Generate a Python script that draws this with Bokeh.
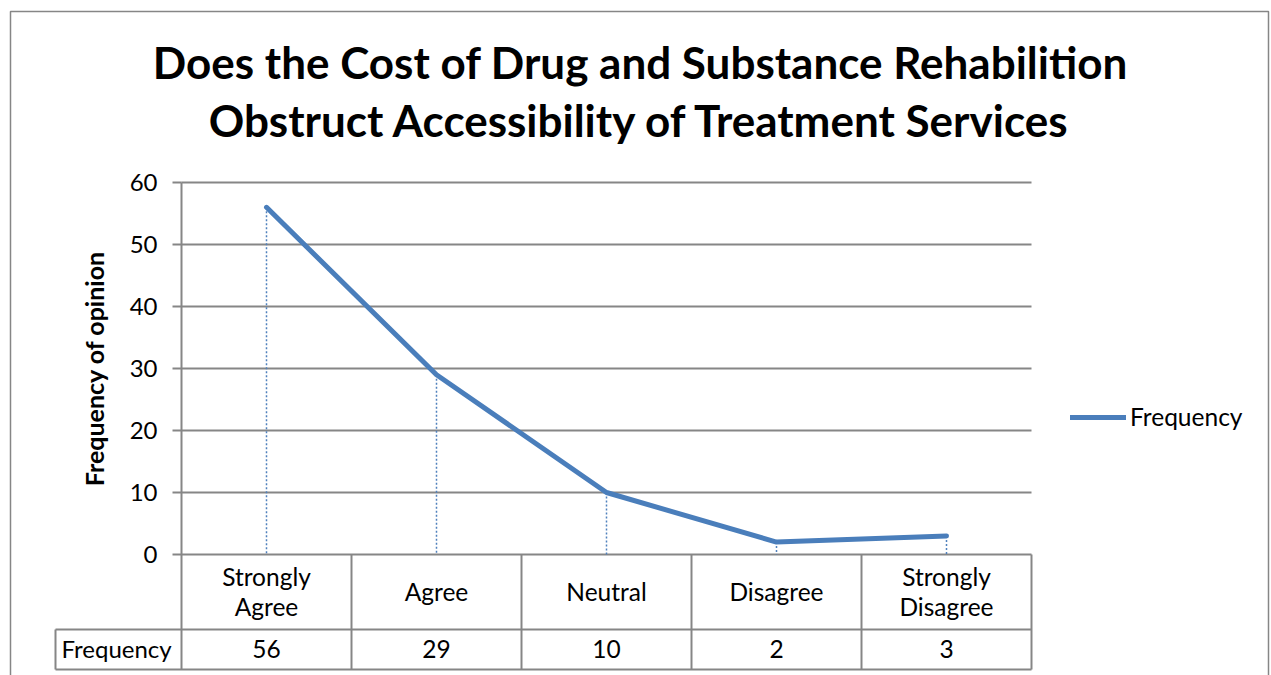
import math
from bokeh.plotting import figure
from bokeh.models import Range1d, Legend, LegendItem
from bokeh.core.properties import value
from bokeh.embed import file_html
from bokeh.resources import INLINE

# ---------------- data ----------------
categories = ["Strongly Agree", "Agree", "Neutral", "Disagree", "Strongly Disagree"]
category_labels = ["Strongly\nAgree", "Agree", "Neutral", "Disagree", "Strongly\nDisagree"]
frequency = [56, 29, 10, 2, 3]
y_ticks = [0, 10, 20, 30, 40, 50, 60]
series_name = "Frequency"
title_lines = ["Does the Cost of Drug and Substance Rehabilition",
               "Obstruct Accessibility of Treatment Services"]
y_label = "Frequency of opinion"

# ---------------- layout helpers (page pixels -> data units) ----------------
W, H = 1271, 675
OFF = 0
CELL = 170.0          # px per category
X_CENTER0 = 266.0     # page x of first category centre
Y_ZERO = 554.0        # page y of value 0
PPU = 372.0 / 60.0    # px per value unit

def xd(px):
    return (px - X_CENTER0) / CELL

def yd(py):
    return (Y_ZERO - py) / PPU

FONT = "Lato"
GRID = "#868686"
BLUE = "#4A7EBB"
DROP = "#4F81BD"

p = figure(width=W, height=H, x_range=Range1d(xd(OFF), xd(OFF + W)),
           y_range=Range1d(yd(OFF + H), yd(OFF)),
           output_backend="svg", toolbar_location=None,
           x_axis_location=None, y_axis_location=None, min_border=0)
p.grid.visible = False
p.outline_line_color = None
p.background_fill_color = "white"
p.border_fill_color = "white"

xs = list(range(len(categories)))
left_edge = -0.5
right_edge = len(categories) - 0.5
row1_bottom = yd(629)
row2_bottom = yd(669)
head_left = xd(55)

# outer chart border
p.quad(left=[xd(10)], right=[xd(1268)], top=[yd(11)], bottom=[yd(720)],
       fill_color=None, line_color=GRID, line_width=1.5)

# horizontal gridlines
p.segment(x0=[left_edge] * len(y_ticks), x1=[right_edge] * len(y_ticks),
          y0=y_ticks, y1=y_ticks, line_color=GRID, line_width=2)
# tick marks
p.segment(x0=[xd(172)] * len(y_ticks), x1=[left_edge] * len(y_ticks),
          y0=y_ticks, y1=y_ticks, line_color=GRID, line_width=2)
# tick labels
p.text(x=[xd(157)] * len(y_ticks), y=y_ticks, text=[str(t) for t in y_ticks],
       text_align="right", text_baseline="middle", text_font=value(FONT),
       text_font_size="24px", text_color="black")

# vertical axis line + table verticals
bounds = [i - 0.5 for i in range(len(categories) + 1)]
p.segment(x0=[left_edge], x1=[left_edge], y0=[max(y_ticks)], y1=[row2_bottom],
          line_color=GRID, line_width=2)
p.segment(x0=bounds[1:], x1=bounds[1:], y0=[0] * (len(bounds) - 1),
          y1=[row2_bottom] * (len(bounds) - 1), line_color=GRID, line_width=2)
p.segment(x0=[head_left], x1=[head_left], y0=[row1_bottom], y1=[row2_bottom],
          line_color=GRID, line_width=2)
# table horizontals
p.segment(x0=[head_left, head_left], x1=[right_edge, right_edge],
          y0=[row1_bottom, row2_bottom], y1=[row1_bottom, row2_bottom],
          line_color=GRID, line_width=2)

# drop lines
p.segment(x0=xs, x1=xs, y0=frequency, y1=[0] * len(xs), line_color=DROP,
          line_width=1.5, line_dash="2 2")

# main series line
line_r = p.line(x=xs, y=frequency, line_color=BLUE, line_width=5,
                line_join="round", line_cap="round")

# table texts
row1_mid = yd(591)
row2_mid = yd(648)
p.text(x=xs, y=[row1_mid] * len(xs), text=category_labels,
       text_align="center", text_baseline="middle", text_font=value(FONT),
       text_font_size="24.5px", text_color="black", text_line_height=1.05)
p.text(x=xs, y=[row2_mid] * len(xs),
       text=[str(v) for v in frequency], text_align="center",
       text_baseline="middle", text_font=value(FONT), text_font_size="24.5px",
       text_color="black")
p.text(x=[xd(61)], y=[row2_mid], text=[series_name],
       text_align="left", text_baseline="middle", text_font=value(FONT),
       text_font_size="24px", text_color="black")

# y axis title
p.text(x=[xd(93)], y=[yd(368)], text=[y_label], angle=math.pi / 2,
       text_align="center", text_baseline="middle", text_font=value(FONT),
       text_font_size="25px", text_font_style="bold", text_color="black")

# chart title
p.text(x=[xd(640), xd(640)], y=[yd(61), yd(119)], text=title_lines,
       text_align="center", text_baseline="alphabetic", text_font=value(FONT),
       text_font_size="44px", text_font_style="bold", text_color="black")

# legend
legend = Legend(items=[LegendItem(label=series_name, renderers=[line_r])],
                location=(1070, H - 419 - 12),
                glyph_width=56, glyph_height=24, label_height=24,
                label_standoff=4, padding=0, margin=0, spacing=0,
                label_text_font=FONT, label_text_font_size="24.5px",
                label_text_color="black", border_line_color=None,
                background_fill_alpha=0)
p.add_layout(legend, "center")

open("out.html", "w").write(file_html(p, INLINE))
